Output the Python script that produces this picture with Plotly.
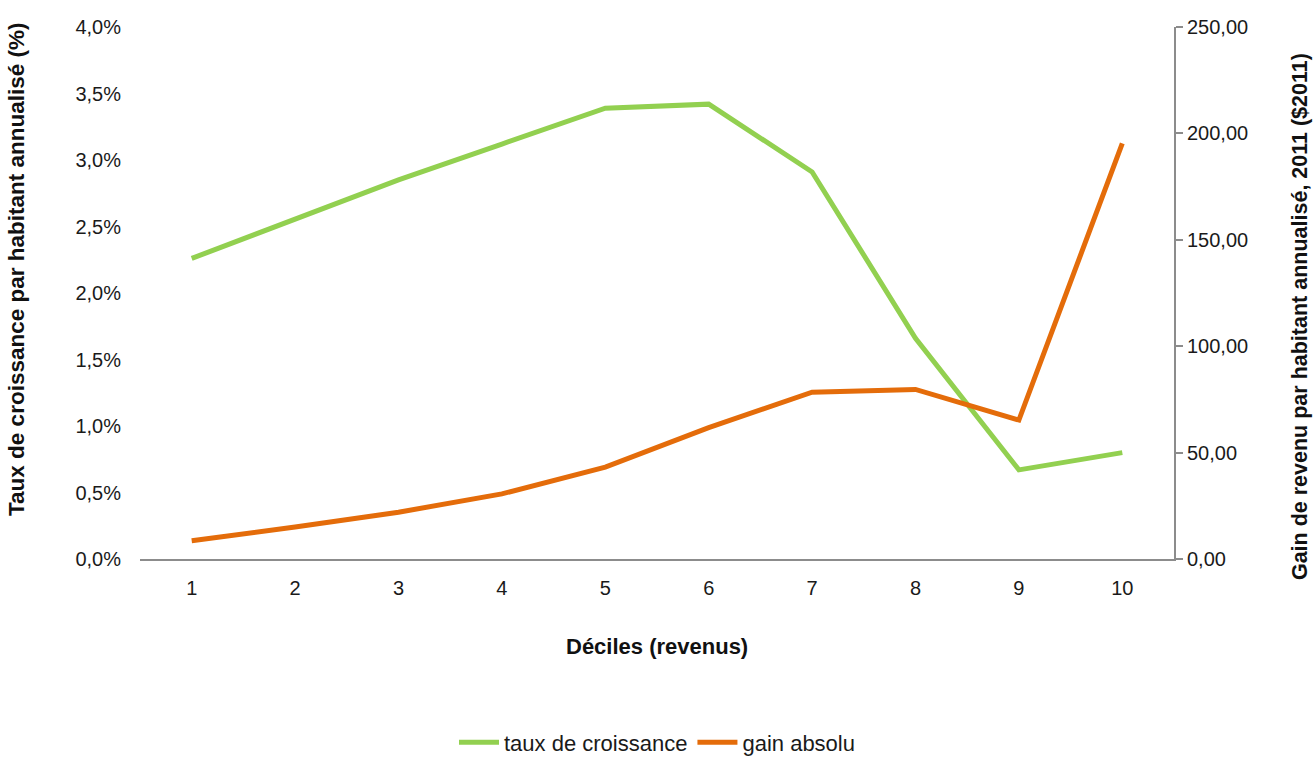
import plotly.graph_objects as go

# Income deciles
deciles = [1, 2, 3, 4, 5, 6, 7, 8, 9, 10]
decile_labels = ["1", "2", "3", "4", "5", "6", "7", "8", "9", "10"]

# Annualised per-capita growth rate (fraction)
taux_croissance = [0.0226, 0.0256, 0.0285, 0.0312, 0.0339, 0.0342, 0.0291, 0.0166, 0.0067, 0.0080]

# Annualised per-capita income gain, 2011 dollars
gain_absolu = [8.6, 15.0, 22.0, 30.6, 43.2, 61.7, 78.4, 79.7, 65.3, 195.3]

GREEN = "#92D050"
ORANGE = "#E46C0A"
AXIS_GREY = "#8C8C8C"
FONT = "Liberation Sans, Arial, sans-serif"

fig = go.Figure()
fig.add_trace(go.Scatter(
    x=deciles, y=taux_croissance, name="taux de croissance",
    mode="lines", line=dict(color=GREEN, width=5), yaxis="y",
))
fig.add_trace(go.Scatter(
    x=deciles, y=gain_absolu, name="gain absolu",
    mode="lines", line=dict(color=ORANGE, width=5), yaxis="y2",
))

fig.update_layout(
    width=1315, height=776,
    margin=dict(l=140, r=141, t=27, b=195),
    paper_bgcolor="white", plot_bgcolor="white",
    separators=", ",
    font=dict(family=FONT, size=20, color="#1a1a1a"),
    showlegend=True,
    legend=dict(
        orientation="h", x=0.5, xanchor="center", y=-0.345, yanchor="middle",
        font=dict(size=22, color="#1a1a1a"), itemwidth=40, tracegroupgap=0,
    ),
    xaxis=dict(
        range=[0.5, 10.5], tickmode="array", tickvals=deciles, ticktext=decile_labels,
        showgrid=False, zeroline=False, showline=True, linecolor=AXIS_GREY, linewidth=2,
        ticks="", ticklabelstandoff=10,
    ),
    yaxis=dict(
        range=[0, 0.04], dtick=0.005, tickformat=".1%",
        showgrid=False, zeroline=False, showline=False, ticks="",
        ticklabelstandoff=18,
    ),
    yaxis2=dict(
        range=[0, 250], dtick=50, tickformat=".2f", overlaying="y", side="right",
        showgrid=False, zeroline=False, showline=True, linecolor=AXIS_GREY, linewidth=2,
        ticks="outside", ticklen=7, tickwidth=2, tickcolor=AXIS_GREY,
    ),
    annotations=[
        dict(text="<b>Déciles (revenus)</b>", xref="paper", yref="paper",
             x=0.5, y=-0.165, xanchor="center", yanchor="middle", showarrow=False,
             font=dict(size=22, color="#111111")),
        dict(text="<b>Taux de croissance par habitant annualisé (%)</b>",
             xref="paper", yref="paper", x=-0.12, y=0.545, textangle=-90,
             xanchor="center", yanchor="middle", showarrow=False,
             font=dict(size=22.5, color="#111111")),
        dict(text="<b>Gain de revenu par habitant annualisé, 2011 ($2011)</b>",
             xref="paper", yref="paper", x=1.122, y=0.455, textangle=-90,
             xanchor="center", yanchor="middle", showarrow=False,
             font=dict(size=21.5, color="#111111")),
    ],
)

fig.write_html("out.html")
